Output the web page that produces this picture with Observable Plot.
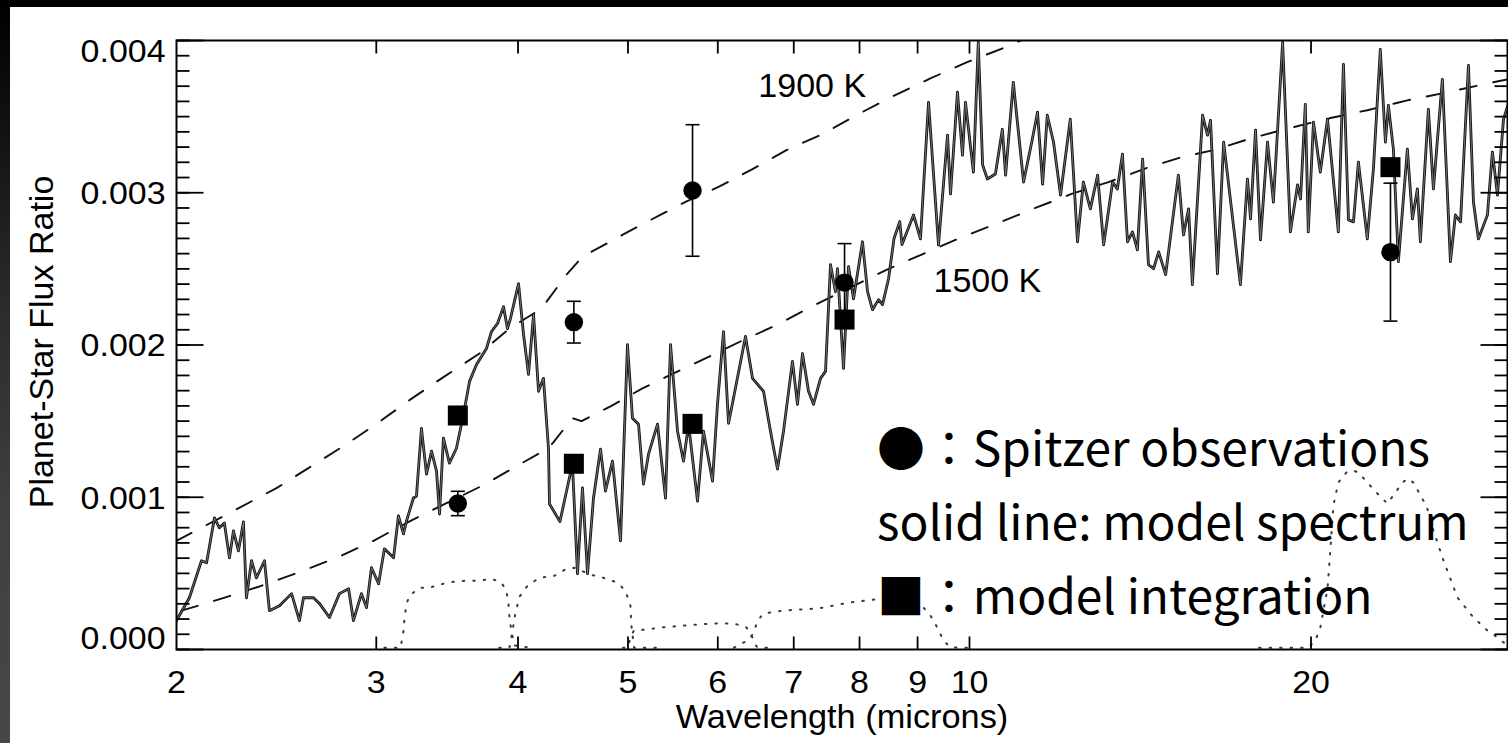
<!DOCTYPE html>
<html><head><meta charset="utf-8">
<script src="https://cdn.jsdelivr.net/npm/d3@7"></script>
<script src="https://cdn.jsdelivr.net/npm/@observablehq/plot@0.6"></script>
<style>
html,body{margin:0;padding:0;background:#000;}
#wrap{position:relative;width:1508px;height:743px;overflow:hidden;background:#000;}
#strip{position:absolute;left:0;top:0;width:10px;height:743px;background:linear-gradient(to bottom,#000 0%,#0a0a0a 10%,#2a2a2a 40%,#404040 70%,#474747 100%);}
#chart{position:absolute;left:10px;top:7px;width:1498px;height:736px;background:#fff;}
</style></head><body>
<div id="wrap"><div id="strip"></div><div id="chart"></div></div>
<script>
// ---------- DATA (flux ratios given in units of 1e-3) ----------
const specWl = [2.000,2.053,2.104,2.126,2.160,2.182,2.204,2.227,2.245,2.268,
2.291,2.305,2.329,2.352,2.391,2.415,2.465,2.526,2.567,2.588,
2.641,2.674,2.728,2.784,2.836,2.864,2.911,2.941,2.971,3.014,
3.050,3.107,3.138,3.170,3.190,3.235,3.255,3.288,3.322,3.356,
3.390,3.411,3.438,3.480,3.530,3.581,3.625,3.677,3.752,3.790,
3.837,3.884,3.915,3.939,4.004,4.045,4.086,4.128,4.170,4.212,
4.255,4.264,4.355,4.467,4.513,4.559,4.606,4.662,4.729,4.777,
4.845,4.925,4.995,5.046,5.108,5.160,5.213,5.309,5.396,5.451,
5.529,5.597,5.654,5.758,5.828,5.936,5.996,6.070,6.132,6.194,
6.347,6.438,6.583,6.677,6.773,6.856,6.982,7.053,7.125,7.213,
7.286,7.391,7.466,7.542,7.619,7.650,7.744,7.823,7.903,8.048,
8.131,8.213,8.314,8.382,8.485,8.58,8.68,8.72,8.926,9.053,
9.202,9.390,9.564,9.622,9.759,9.859,9.919,10.08,10.18,10.27,
10.37,10.54,10.69,10.76,10.93,11.16,11.36,11.48,11.60,11.71,
11.86,12.03,12.27,12.45,12.60,12.78,12.97,13.13,13.37,13.50,
13.64,13.78,13.92,14.06,14.21,14.38,14.53,14.68,14.89,15.28,
15.44,15.60,15.72,16.05,16.21,16.31,16.54,16.75,17.33,17.58,
17.69,17.87,18.05,18.31,18.53,18.88,19.18,19.46,19.58,19.77,
19.89,20.10,20.38,20.68,21.14,21.36,21.58,21.80,22.02,22.42,
22.70,23.02,23.26,23.40,23.64,23.88,24.32,24.57,24.82,24.97,
25.38,25.64,26.11,26.54,26.81,27.09,27.53,27.81,28.09,28.61,
28.90,29.20,29.56,29.90];
const specFlux = [0.190,0.340,0.583,0.570,0.864,0.799,0.831,0.602,0.779,0.648,
0.838,0.340,0.583,0.471,0.583,0.255,0.288,0.367,0.190,0.340,
0.340,0.301,0.210,0.367,0.399,0.190,0.367,0.275,0.537,0.432,
0.661,0.602,0.877,0.759,0.845,0.995,1.008,1.453,1.152,1.303,
1.172,0.890,1.388,1.224,1.322,1.545,1.761,1.872,1.977,2.088,
2.141,2.252,2.108,2.173,2.403,2.069,1.807,2.200,1.696,1.781,
1.322,0.956,0.840,1.218,0.498,1.061,0.498,0.995,1.316,1.041,
1.237,0.714,2.003,1.519,1.480,1.087,1.283,1.480,0.995,2.003,
1.434,1.237,1.480,0.975,1.434,1.106,1.610,2.088,1.486,1.650,
2.056,1.781,1.696,1.434,1.185,1.434,1.892,1.610,1.944,1.696,
1.610,1.781,1.827,2.527,2.350,2.501,1.846,2.514,2.304,2.678,
2.350,2.232,2.298,2.265,2.435,2.700,2.810,2.660,2.854,2.697,
3.594,2.658,3.378,2.992,3.660,3.247,3.594,3.136,3.987,3.182,
3.090,3.123,3.417,3.116,3.725,3.070,3.352,3.529,3.057,3.509,
3.332,2.985,3.483,2.678,3.070,2.894,3.116,2.658,3.070,3.025,
3.254,2.678,2.743,2.625,3.221,2.527,2.501,2.612,2.462,3.116,
2.723,2.894,2.396,3.509,3.378,3.476,2.468,3.332,2.396,3.090,
2.828,3.411,2.691,3.332,2.939,3.987,2.743,3.051,2.959,3.581,
2.743,3.463,3.136,3.483,2.743,3.843,2.822,2.809,3.201,2.697,
3.155,3.941,3.332,3.574,3.286,2.547,3.286,2.828,3.025,2.678,
3.548,3.025,3.745,2.547,2.854,2.809,3.836,2.939,2.697,2.854,
3.267,2.985,3.483,3.600];

const bb1900Wl   = [2.000,2.245,2.450,2.625,2.807,3.007,3.216,3.446,3.699,3.932,4.195,4.413,4.559,4.729,5.076,5.319,5.619,6.009,6.438,6.897,7.420,7.980,8.554,9.237,9.941,10.74,11.50];
const bb1900Flux = [0.714,0.910,1.060,1.200,1.336,1.486,1.643,1.794,1.944,2.108,2.239,2.462,2.580,2.645,2.769,2.848,2.940,3.038,3.155,3.280,3.385,3.516,3.633,3.751,3.856,3.954,4.050];

const bb1500Wl   = [2.020,2.191,2.362,2.557,2.767,2.983,3.216,3.729,4.003,4.250,4.299,4.467,4.550,4.826,5.149,5.461,5.851,6.282,6.773,7.286,8.450,9.107,9.818,10.61,11.43,12.30,13.26,14.32,15.38,16.41,17.72,19.14,20.76,22.42,24.32,26.38,28.61,29.80];
const bb1500Flux = [0.255,0.334,0.412,0.504,0.602,0.714,0.845,1.080,1.211,1.320,1.362,1.520,1.500,1.597,1.715,1.807,1.912,2.023,2.134,2.259,2.494,2.599,2.704,2.802,2.900,2.992,3.070,3.162,3.234,3.280,3.358,3.424,3.489,3.542,3.607,3.660,3.718,3.745];

// Spitzer bandpass responses (dotted), arbitrary scale
const filterBand = ["IRAC 3.6","IRAC 4.5","IRAC 5.8","IRAC 8.0","MIPS 24"];
const filterWl = [
  [3.05,3.152,3.170,3.177,3.190,3.209,3.275,3.342,3.438,3.509,3.603,3.699,3.790,3.868,3.907,3.923,3.931,3.947,3.971,4.10],
  [3.85,3.931,3.955,3.979,4.012,4.078,4.178,4.307,4.413,4.485,4.634,4.757,4.895,4.974,5.025,5.035,5.062,5.35],
  [4.95,5.000,5.025,5.060,5.182,5.342,5.597,5.912,6.194,6.347,6.412,6.464,6.504,6.75],
  [6.20,6.371,6.450,6.504,6.583,6.855,7.346,7.853,8.401,9.107,9.237,9.369,9.485,9.621,9.95],
  [18.0,19.89,20.18,20.38,20.51,20.68,20.80,20.93,21.14,21.49,21.75,22.02,22.42,22.88,23.35,23.74,24.07,24.37,24.67,24.97,25.28,25.64,26.17,26.92,27.81,28.61,29.20,29.80]
];
const filterResp = [
  [0.012,0.012,0.120,0.210,0.300,0.353,0.406,0.406,0.432,0.445,0.452,0.452,0.465,0.439,0.386,0.300,0.210,0.120,0.026,0.012],
  [0.012,0.012,0.120,0.242,0.347,0.419,0.471,0.484,0.530,0.537,0.491,0.471,0.439,0.386,0.288,0.157,0.012,0.012],
  [0.012,0.012,0.080,0.124,0.131,0.144,0.157,0.170,0.170,0.151,0.111,0.039,0.012,0.012],
  [0.012,0.059,0.105,0.190,0.236,0.256,0.269,0.309,0.335,0.276,0.223,0.144,0.059,0.013,0.012],
  [0.012,0.012,0.059,0.144,0.256,0.400,0.650,0.946,1.097,1.163,1.176,1.163,1.097,1.025,0.959,1.031,1.097,1.123,1.090,1.011,0.946,0.782,0.585,0.342,0.210,0.125,0.079,0.026]
];

const bandNames  = ["3.6","4.5","5.8","8.0","24"];
const obsWl      = [3.54,4.48,5.70,7.76,23.5];
const obsFlux    = [0.959,2.150,3.015,2.410,2.610];
const obsErr     = [0.080,0.137,0.432,0.256,0.453];
const modelFlux  = [1.537,1.220,1.482,2.167,3.168];

const tempLabels = ["1900 K","1500 K"];
const tempWl     = [7.267,10.37];
const tempFlux   = [3.702,2.422];

const xTickValues = [2,3,4,5,6,7,8,9,10,20];
const xTickLabels = ["2","3","4","5","6","7","8","9","10","20"];
const yTickValues = [0,0.001,0.002,0.003,0.004];
const yTickLabels = ["0.000","0.001","0.002","0.003","0.004"];

const xTitle = "Wavelength (microns)";
const yTitle = "Planet-Star Flux Ratio";
const legendLines = ["●：Spitzer observations","solid line: model spectrum","■：model integration"];

// ---------- build tables ----------
const E = 1e-3;
const spectrum = specWl.map((w,i)=>({wl:w, f:specFlux[i]*E}));
const bb1900 = bb1900Wl.map((w,i)=>({wl:w, f:bb1900Flux[i]*E}));
const bb1500 = bb1500Wl.map((w,i)=>({wl:w, f:bb1500Flux[i]*E}));
const filters = filterBand.flatMap((b,j)=>filterWl[j].map((w,i)=>({band:b, wl:w, f:filterResp[j][i]*E})));
const obs = bandNames.map((b,i)=>({band:b, wl:obsWl[i], f:obsFlux[i]*E, err:obsErr[i]*E, model:modelFlux[i]*E}));
const caps = obs.flatMap(d=>[{wl:d.wl, f:d.f-d.err},{wl:d.wl, f:d.f+d.err}]);
const temps = tempLabels.map((t,i)=>({t, wl:tempWl[i], f:tempFlux[i]*E}));
const yMinor = d3.range(0,41).map(i=>i*0.0001);
const xInner = xTickValues.slice(1);
const xMin = 2, xMax = 29.8;

const seg = (dx,dy)=>({draw(ctx){ctx.moveTo(0,0);ctx.lineTo(dx,dy);}});
const capSym = {draw(ctx){ctx.moveTo(-7,0);ctx.lineTo(7,0);}};
const tk = {stroke:"black", fill:"none", strokeWidth:1.8};

const ink = "#111";
const plot = Plot.plot({
  width:1498, height:736,
  marginLeft:166, marginRight:1, marginTop:33, marginBottom:94,
  x:{type:"log", domain:[xMin,xMax], axis:null},
  y:{domain:[0,0.004], axis:null},
  style:{background:"white", fontFamily:"'Liberation Sans', Arial, Helvetica, sans-serif", fontSize:"32px", overflow:"visible"},
  marks:[
    Plot.line(filters, {x:"wl", y:"f", z:"band", stroke:"#3a3a3a", strokeWidth:2, strokeDasharray:"1.5,9", strokeLinecap:"round", clip:true}),
    Plot.line(bb1900, {x:"wl", y:"f", stroke:ink, strokeWidth:1.9, strokeDasharray:"17,17", clip:true}),
    Plot.line(bb1500, {x:"wl", y:"f", stroke:ink, strokeWidth:1.9, strokeDasharray:"17,17", clip:true}),
    Plot.line(spectrum, {x:"wl", y:"f", stroke:ink, strokeWidth:2.8, strokeLinejoin:"round", clip:true}),
    Plot.line(spectrum, {x:"wl", y:"f", stroke:"#8a8a8a", strokeWidth:0.8, strokeLinejoin:"round", clip:true}),
    Plot.ruleX(obs, {x:"wl", y1:d=>d.f-d.err, y2:d=>d.f+d.err, stroke:"black", strokeWidth:1.6}),
    Plot.dot(caps, {x:"wl", y:"f", symbol:capSym, stroke:"black", fill:"none", strokeWidth:1.6}),
    Plot.dot(obs, {x:"wl", y:"f", r:9.2, fill:"black", stroke:"none"}),
    Plot.dot(obs, {x:"wl", y:"model", symbol:"square", r:11.3, fill:"black", stroke:"none"}),
    Plot.frame({stroke:"black", strokeWidth:2}),
    // axis ticks (inward)
    Plot.dot(yMinor, {y:d=>d, frameAnchor:"left", symbol:seg(13,0), ...tk}),
    Plot.dot(yTickValues, {y:d=>d, frameAnchor:"left", symbol:seg(27,0), ...tk}),
    Plot.dot(yMinor, {y:d=>d, frameAnchor:"right", symbol:seg(-13,0), ...tk}),
    Plot.dot(yTickValues, {y:d=>d, frameAnchor:"right", symbol:seg(-27,0), ...tk}),
    Plot.dot(xInner, {x:d=>d, frameAnchor:"bottom", symbol:seg(0,-13), ...tk}),
    Plot.dot(xInner, {x:d=>d, frameAnchor:"top", symbol:seg(0,13), ...tk}),
    // tick labels
    Plot.text(xTickValues, {x:d=>d, text:(d,i)=>xTickLabels[i], frameAnchor:"bottom", dy:33, fontSize:32, lineAnchor:"middle", ariaDescription:"stretch"}),
    Plot.text(yTickValues.slice(1,4), {y:d=>d, text:(d,i)=>yTickLabels[i+1], frameAnchor:"left", dx:-11, dy:1, textAnchor:"end", fontSize:32, lineAnchor:"middle", ariaDescription:"stretch"}),
    Plot.text(yTickValues.slice(4), {y:d=>d, text:()=>yTickLabels[4], frameAnchor:"left", dx:-11, dy:11, textAnchor:"end", fontSize:32, lineAnchor:"middle", ariaDescription:"stretch"}),
    Plot.text(yTickValues.slice(0,1), {y:d=>d, text:()=>yTickLabels[0], frameAnchor:"left", dx:-11, dy:-11, textAnchor:"end", fontSize:32, lineAnchor:"middle", ariaDescription:"stretch"}),
    // titles
    Plot.text([xTitle], {frameAnchor:"bottom", dy:68, fontSize:33, lineAnchor:"middle", ariaDescription:"stretch2"}),
    Plot.text([yTitle], {x:()=>xMin, y:()=>0.00202, dx:-134, rotate:-90, fontSize:34, lineAnchor:"middle"}),
    // temperature labels
    Plot.text(temps, {x:"wl", y:"f", text:"t", fontSize:34, lineAnchor:"middle"})
  ]
});
document.getElementById("chart").appendChild(plot);

function stretch(sel, k){
  plot.querySelectorAll(sel).forEach(t=>{
    const w = t.getComputedTextLength();
    t.setAttribute("textLength", (w*k).toFixed(1));
    t.setAttribute("lengthAdjust","spacingAndGlyphs");
  });
}
stretch('g[aria-description="stretch"] text', 1.06);
stretch('g[aria-description="stretch2"] text', 1.04);

// legend overlay (added on top of the chart, as in the source figure)
const lg = d3.select("#wrap").append("svg")
  .attr("width",1508).attr("height",743)
  .style("position","absolute").style("left","0").style("top","0").style("pointer-events","none");
const lt = lg.selectAll("text").data(legendLines).join("text")
  .attr("x",877).attr("y",(d,i)=>466+i*74)
  .attr("font-family","'Noto Sans CJK JP','Noto Sans',sans-serif")
  .attr("font-size",52).attr("fill","#000")
  .text(d=>d);
// size the legend font so the middle line spans the same width as in the figure
const w2 = lt.nodes()[1].getComputedTextLength();
const fs = Math.max(30, Math.min(60, 52*592/w2));
lt.attr("font-size", fs.toFixed(1));
</script>
</body></html>
